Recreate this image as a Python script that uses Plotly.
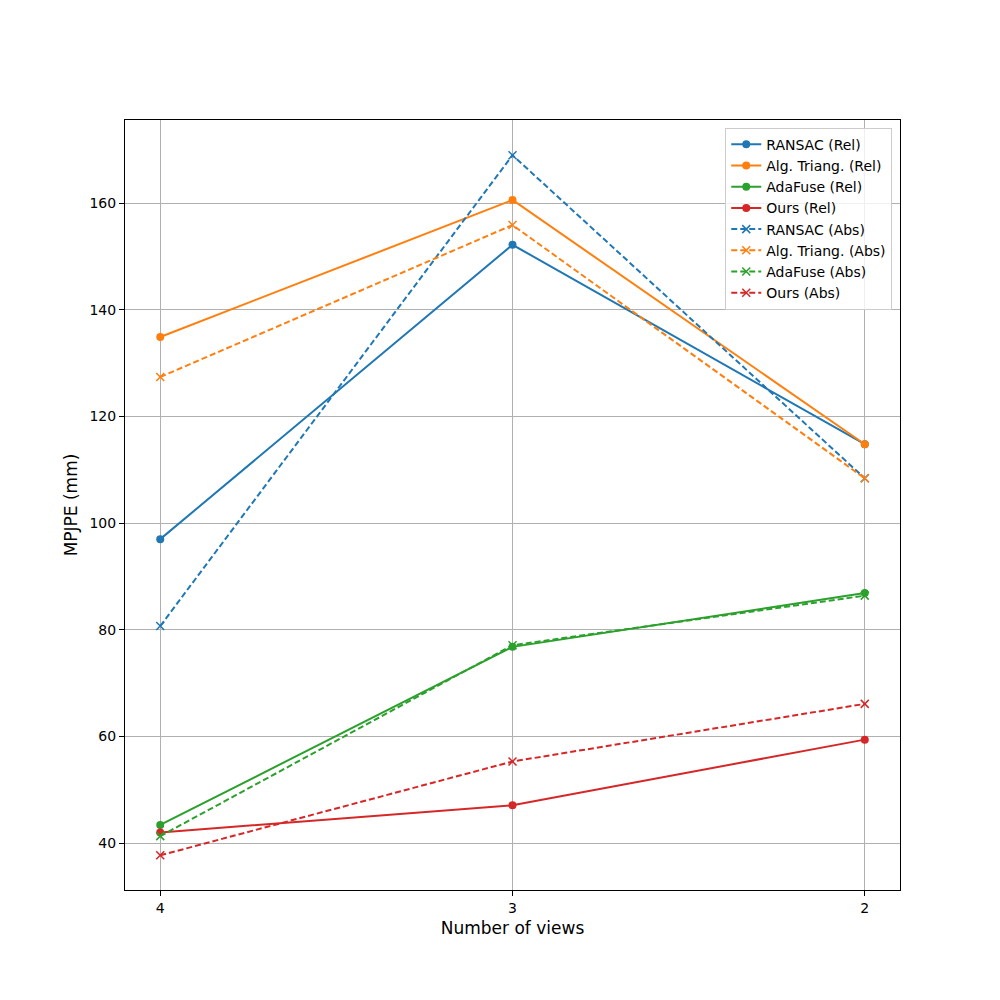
import plotly.graph_objects as go

views = [4, 3, 2]

ransac_rel = [97.0, 152.2, 114.8]
alg_rel = [134.9, 160.6, 114.8]
adafuse_rel = [43.4, 76.8, 86.9]
ours_rel = [42.0, 47.1, 59.4]

ransac_abs = [80.7, 169.0, 108.4]
alg_abs = [127.4, 155.9, 108.4]
adafuse_abs = [41.3, 77.1, 86.4]
ours_abs = [37.7, 55.3, 66.1]

colors = ['#1f77b4', '#ff7f0e', '#2ca02c', '#d62728']
names = ['RANSAC', 'Alg. Triang.', 'AdaFuse', 'Ours']

fig = go.Figure()

for name, vals, c in zip(names, [ransac_rel, alg_rel, adafuse_rel, ours_rel], colors):
    fig.add_trace(go.Scatter(
        x=views, y=vals, mode='lines+markers', name=name + ' (Rel)',
        line=dict(color=c, width=2),
        marker=dict(symbol='circle', size=8, color=c)))

for name, vals, c in zip(names, [ransac_abs, alg_abs, adafuse_abs, ours_abs], colors):
    fig.add_trace(go.Scatter(
        x=views, y=vals, mode='lines+markers', name=name + ' (Abs)',
        line=dict(color=c, width=2, dash='6px,3px'),
        marker=dict(symbol='x-thin', size=8, color=c, line=dict(color=c, width=1.5))))

axis_style = dict(
    showline=True, linecolor='black', linewidth=1, mirror=True,
    ticks='outside', ticklen=5, tickcolor='black',
    showgrid=True, gridcolor='#b0b0b0', gridwidth=0.8,
    zeroline=False, tickfont=dict(size=14, color='black'),
)

# page body adds ~8px offset, so margins are shifted to compensate
fig.update_layout(
    width=1000, height=1000,
    margin=dict(l=117, r=108, t=112, b=118),
    plot_bgcolor='white', paper_bgcolor='white',
    font=dict(family='DejaVu Sans', color='black'),
    xaxis=dict(axis_style, range=[4.1, 1.9], tickvals=views,
               title=dict(text='Number of views', font=dict(size=17), standoff=7)),
    yaxis=dict(axis_style, range=[31.2, 175.6], tickvals=[40, 60, 80, 100, 120, 140, 160],
               title=dict(text='MPJPE (mm)', font=dict(size=17), standoff=7)),
    legend=dict(x=0.99, y=0.99, xanchor='right', yanchor='top',
                bgcolor='rgba(255,255,255,0.8)', bordercolor='#cccccc', borderwidth=1,
                font=dict(size=14), tracegroupgap=0),
)

fig.write_html("out.html")
